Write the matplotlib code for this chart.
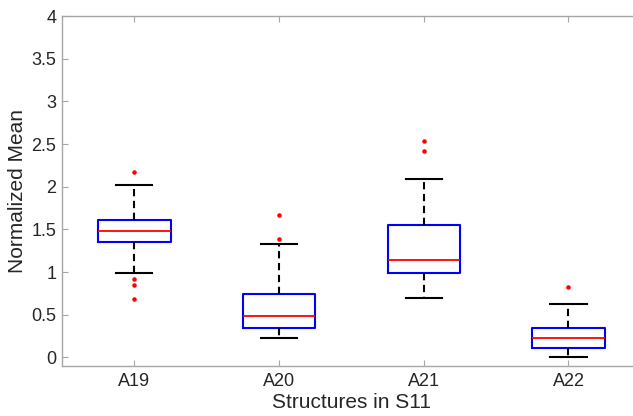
import matplotlib
matplotlib.use("Agg")
import matplotlib.pyplot as plt

plt.rcParams['font.family'] = ['Liberation Sans', 'DejaVu Sans']

# box statistics
labels = ['A19', 'A20', 'A21', 'A22']
medians = [1.48, 0.49, 1.14, 0.23]
q1 = [1.35, 0.345, 0.99, 0.11]
q3 = [1.615, 0.745, 1.55, 0.35]
whisk_lo = [0.995, 0.23, 0.695, 0.0]
whisk_hi = [2.02, 1.335, 2.095, 0.625]
outliers = [[2.17, 0.925, 0.85, 0.69],
            [1.67, 1.39],
            [2.54, 2.42],
            [0.82]]

stats = []
for lab, med, lo, hi, wl, wh, fl in zip(labels, medians, q1, q3, whisk_lo, whisk_hi, outliers):
    stats.append({'label': lab, 'med': med, 'q1': lo, 'q3': hi,
                  'whislo': wl, 'whishi': wh, 'fliers': fl})

fig = plt.figure(figsize=(6.33, 4.16), dpi=100)
ax = fig.add_axes([0.098, 0.1202, 0.9144, 0.8413])

ax.bxp(stats, widths=0.5, capwidths=0.25,
       boxprops=dict(color='blue', linewidth=1.5),
       medianprops=dict(color='red', linewidth=1.3),
       whiskerprops=dict(color='black', linewidth=1.5, linestyle=(0, (3.5, 2.2))),
       capprops=dict(color='black', linewidth=1.5),
       flierprops=dict(marker='.', markerfacecolor='red', markeredgecolor='red',
                       markersize=4.5, linestyle='none'))

ax.set_xlim(0.5, 4.5)
ax.set_ylim(-0.1, 4)
ax.set_yticks([0, 0.5, 1, 1.5, 2, 2.5, 3, 3.5, 4])
ax.set_yticklabels(['0', '0.5', '1', '1.5', '2', '2.5', '3', '3.5', '4'])

for s in ax.spines.values():
    s.set_color('#a6a6a6')
    s.set_linewidth(1.0)
ax.tick_params(direction='in', length=4, color='#a6a6a6', labelcolor='#262626',
               labelsize=13, top=True, right=True)
ax.tick_params(axis='x', pad=5)
ax.tick_params(axis='y', pad=4)

ax.set_xlabel('Structures in S11', fontsize=15, color='#262626', labelpad=2)
ax.set_ylabel('Normalized Mean', fontsize=15, color='#262626', labelpad=3)

fig.savefig('out.png', dpi=100)
